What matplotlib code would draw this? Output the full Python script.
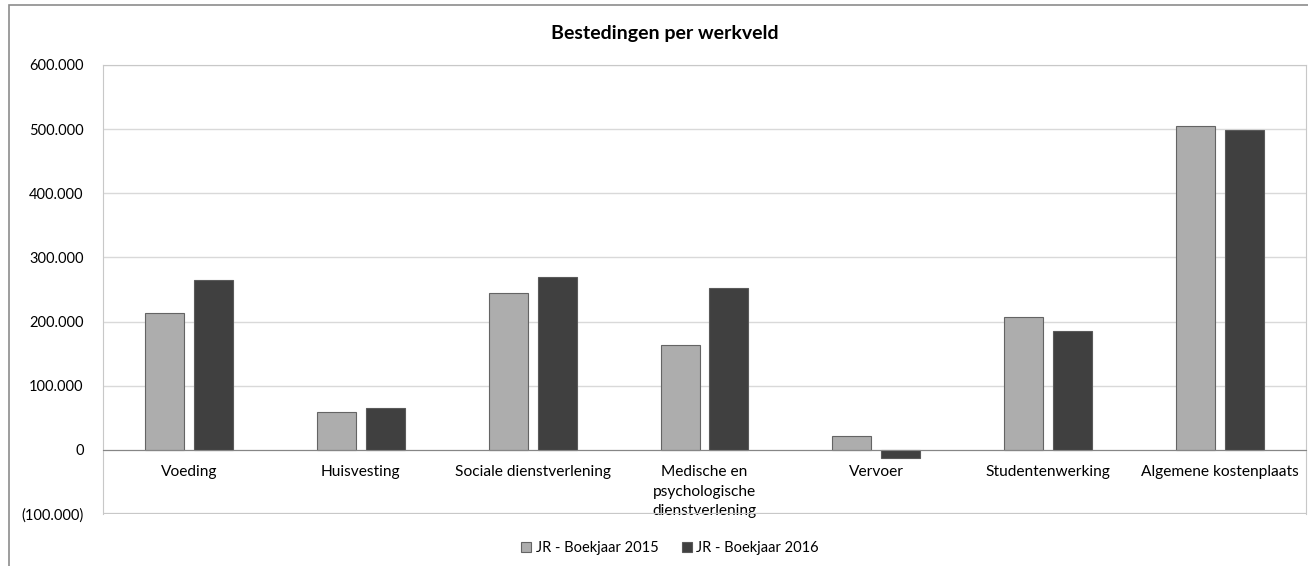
import matplotlib.pyplot as plt
from matplotlib.patches import Rectangle
from matplotlib.ticker import FuncFormatter, MultipleLocator
import numpy as np

plt.rcParams["font.family"] = ["Lato", "DejaVu Sans"]

categories = [
    "Voeding",
    "Huisvesting",
    "Sociale dienstverlening",
    "Medische en\npsychologische\ndienstverlening",
    "Vervoer",
    "Studentenwerking",
    "Algemene kostenplaats",
]
jr_2015 = [214000, 58500, 244000, 163000, 21000, 207000, 505500]
jr_2016 = [264500, 66000, 269000, 252000, -13000, 186000, 498500]
series_labels = ["JR - Boekjaar 2015", "JR - Boekjaar 2016"]


def nl_thousands(v, pos=None):
    # Dutch style thousands with dots, negatives in parentheses
    if v == 0:
        return "0"
    s = f"{abs(v):,.0f}".replace(",", ".")
    return f"({s})" if v < 0 else s


fig = plt.figure(figsize=(13.08, 5.66), dpi=100)
fig.patches.append(Rectangle((9 / 1308, -0.1), 1.2, 1 - 5 / 566 + 0.1,
                             transform=fig.transFigure, fill=False,
                             edgecolor="#8c8c8c", linewidth=1.2))

ax = fig.add_axes([103 / 1308, 52 / 566, 1203 / 1308, 449 / 566])

x = np.arange(len(categories))
width = 0.227
offset = 0.142
ax.bar(x - offset, jr_2015, width, color="#adadad", edgecolor="#646464",
       linewidth=0.8, label=series_labels[0], zorder=3)
ax.bar(x + offset, jr_2016, width, color="#404040", edgecolor="#5a5a5a",
       linewidth=0.8, label=series_labels[1], zorder=3)

ax.set_xlim(-0.5, len(categories) - 0.5)
ax.set_ylim(-100000, 600000)
ax.yaxis.set_major_locator(MultipleLocator(100000))
ax.yaxis.set_major_formatter(FuncFormatter(nl_thousands))
ax.grid(axis="y", color="#d9d9d9", linewidth=1, zorder=0)

for side in ["left", "right", "top"]:
    ax.spines[side].set_color("#c8c8c8")
ax.spines["bottom"].set_position(("data", 0))
ax.spines["bottom"].set_color("#868686")
ax.spines["bottom"].set_zorder(4)
ax.axhline(-100000, color="#c8c8c8", linewidth=1.6, zorder=4)

ax.set_xticks(x)
ax.set_xticklabels(categories, fontsize=11.2, linespacing=1.5)
ax.tick_params(axis="x", length=0, pad=11)
ax.tick_params(axis="y", length=0, pad=14, labelsize=10.5)

fig.suptitle("Bestedingen per werkveld", fontsize=14, fontweight="bold",
             x=665 / 1308, y=1 - 33 / 566, va="center")

fig.legend(loc="center", bbox_to_anchor=(670 / 1308, 1 - 548 / 566), ncol=2,
           frameon=False, fontsize=10.5, handlelength=0.7, handleheight=0.7,
           handletextpad=0.3, columnspacing=1.6)

fig.savefig("out.png", dpi=100)
